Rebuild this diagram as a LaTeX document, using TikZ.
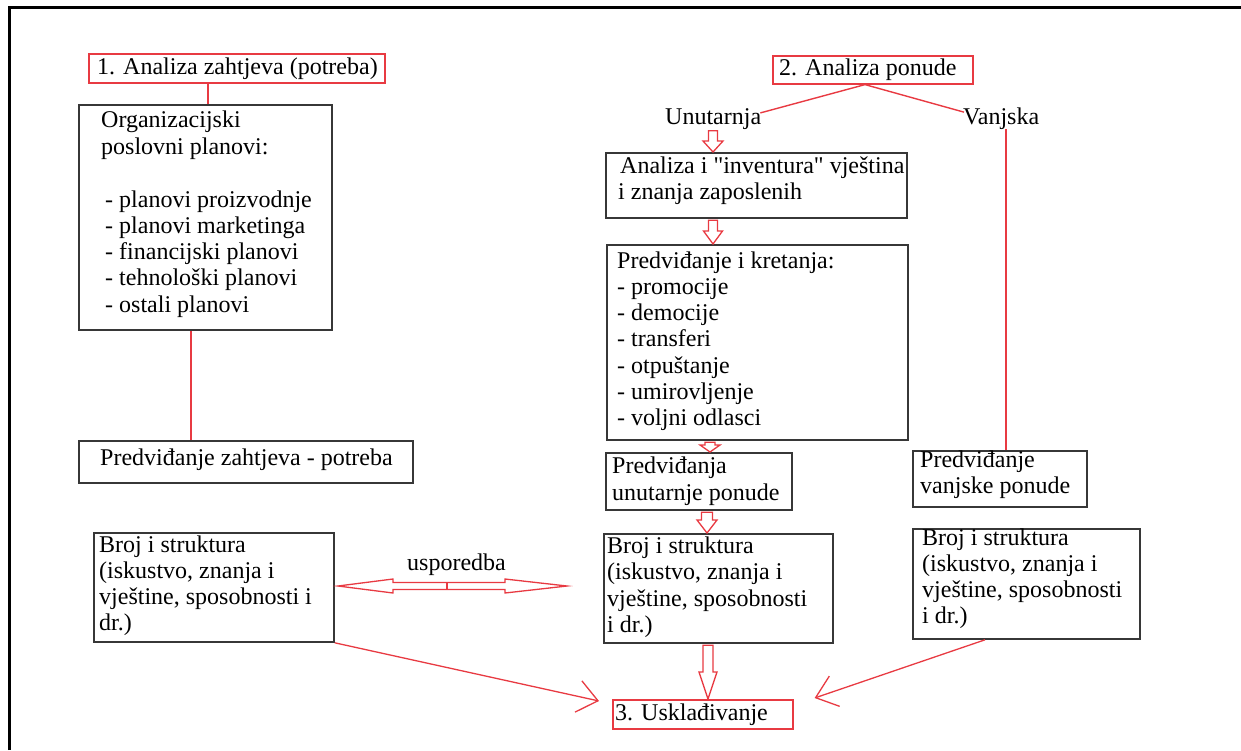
\documentclass[tikz,border=0pt]{standalone}
\usepackage{fontspec}
\setmainfont{Liberation Serif}[Ligatures=TeXOff]
\usetikzlibrary{arrows.meta,calc}
\definecolor{rd}{RGB}{232,58,66}
\definecolor{bx}{RGB}{55,55,55}
\newcommand\mybox[6]{\node[#1, anchor=north west, minimum width={#5pt-#3pt}, minimum height={#6pt-#4pt}] (#2) at (#3,#4) {};}
\newcommand\mylines[5]{\foreach \t [count=\i from 0] in {#5} {\node[txt] (#1-\i) at (#2, #3+\i*#4) {\t};}}
\newcommand\barrow[6]{\draw[blk] let \p1=(#1.south), \p2=(#2.north) in
 (#3pt-#4pt,\y1-1.5pt) -- (#3pt-#4pt,\y2+#6pt) -- (#3pt-#5pt,\y2+#6pt) -- (#3pt,\y2) -- (#3pt+#5pt,\y2+#6pt) -- (#3pt+#4pt,\y2+#6pt) -- (#3pt+#4pt,\y1-1.5pt) -- cycle;}
\begin{document}
\begin{tikzpicture}[x=1pt,y=-1pt,
  blackbox/.style={draw=bx, line width=1.8pt, inner sep=0pt},
  redbox/.style={draw=rd, line width=1.6pt, inner sep=0pt},
  txt/.style={anchor=base west, inner sep=0pt, font=\fontsize{24}{26}\selectfont},
  redline/.style={draw=rd, line width=1.4pt},
  redarrow/.style={draw=rd, line width=1.3pt, -{Straight Barb[length=20pt,width=32pt,line width=1.3pt]}},
  blk/.style={draw=rd, line width=1.3pt, fill=white, line join=miter}]
\useasboundingbox (0,0) rectangle (1241,750);
% frame
\draw[line width=3pt] (9,750) -- (9,7) -- (1241,7);

% ---- left column
\mybox{redbox}{b1}{88}{53}{384}{82}
\mylines{t1}{97}{74}{26}{{1. Analiza zahtjeva (potreba)}}
\mybox{blackbox}{org}{78}{104}{331}{329}
\mylines{torg}{101}{127}{27}{Organizacijski,{poslovni planovi:}}
\mylines{tplan}{105}{207}{26.3}{{- planovi proizvodnje},{- planovi marketinga},{- financijski planovi},{- tehnološki planovi},{- ostali planovi}}
\mybox{blackbox}{pz}{78}{440}{412}{482}
\mylines{tpz}{100}{465}{26}{{Predviđanje zahtjeva - potreba}}
\mybox{blackbox}{lb}{93}{532}{333}{641}
\mylines{tlb}{99}{552}{26}{{Broj i struktura},{(iskustvo, znanja i},{vještine, sposobnosti i},{dr.)}}

\coordinate (xa) at (208,0);
\coordinate (xb) at (191,0);
\draw[redline] (b1.south -| xa) -- (org.north -| xa);
\draw[redline] (org.south -| xb) -- (pz.north -| xb);

% ---- comparison arrow
\node[txt] (usp) at (407,570) {usporedba};
\coordinate (cmpL) at (338,586);
\coordinate (cmpR) at (567,586);
\draw[blk] (cmpL) -- ++(55,-7) -- ++(0,3.5) -- ($(cmpR)+(-62,-3.5)$) -- ++(0,-3.5) -- (cmpR)
  -- ++(-62,7) -- ++(0,-3.5) -- ($(cmpL)+(55,3.5)$) -- ++(0,3.5) -- cycle;
\draw[redline, line width=1.3pt] ($(cmpL)!0.476!(cmpR)+(0,-3.5)$) -- ++(0,7);

% ---- middle column
\mybox{redbox}{b2}{772}{55}{972}{83}
\mylines{t2}{779}{75}{26}{{2. Analiza ponude}}
\node[txt] (unut) at (665,124) {Unutarnja};
\node[txt] (vanj) at (963,124) {Vanjska};
\coordinate (xc) at (865,0);
\coordinate (xd) at (1006,0);
\draw[redline] ($(unut.north east)+(-1,5)$) -- (b2.south -| xc) -- ($(vanj.north west)+(1,5)$);

\mybox{blackbox}{inv}{605}{152}{906}{217}
\node[txt] (tinv-0) at (620,173) {Analiza i "inventura" vještina};
\node[txt] (tinv-1) at (618,199) {i znanja zaposlenih};
\mybox{blackbox}{kr}{606}{244}{907}{439}
\mylines{tkr}{617}{268}{26.3}{{Predviđanje i kretanja:},{- promocije},{- democije},{- transferi},{- otpuštanje},{- umirovljenje},{- voljni odlasci}}
\mybox{blackbox}{pu}{605}{452}{791}{509}
\mylines{tpu}{612}{473}{27}{Predviđanja,{unutarnje ponude}}
\mybox{blackbox}{mb}{603}{533}{832}{642}
\mylines{tmb}{607}{553}{26.5}{{Broj i struktura},{(iskustvo, znanja i},{vještine, sposobnosti},{i dr.)}}
\mybox{redbox}{usk}{612}{699}{792}{728}
\node[txt] (tusk) at (615,720) {3. Usklađivanje};

\barrow{unut}{inv}{713}{4.5}{10}{11}
\barrow{inv}{kr}{713}{4.5}{9.5}{13}
\barrow{kr}{pu}{710}{5}{10}{7}
\barrow{pu}{mb}{707}{5.5}{10}{13}
\barrow{mb}{usk}{708}{5}{9}{27}

% ---- right column
\mybox{blackbox}{pv}{912}{450}{1086}{506}
\mylines{tpv}{920}{467}{26.5}{Predviđanje,{vanjske ponude}}
\mybox{blackbox}{rb}{912}{528}{1139}{638}
\mylines{trb}{922}{545}{26.3}{{Broj i struktura},{(iskustvo, znanja i},{vještine, sposobnosti},{i dr.)}}
\draw[redline] (vanj.south -| xd) -- (pv.north -| xd);

% ---- converging arrows
\draw[redarrow] (lb.south east) -- ($(usk.north west)+(-13,2)$);
\draw[redarrow] ($(rb.south west)+(73,0)$) -- ($(usk.north east)+(21,-1)$);
\end{tikzpicture}
\end{document}
